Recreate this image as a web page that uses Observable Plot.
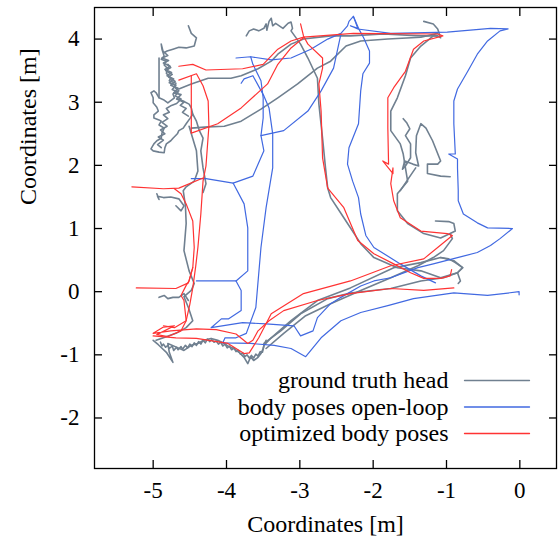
<!DOCTYPE html>
<html>
<head>
<meta charset="utf-8">
<script src="https://cdn.jsdelivr.net/npm/d3@7"></script>
<script src="https://cdn.jsdelivr.net/npm/@observablehq/plot@0.6"></script>
<style>
  html, body { margin: 0; padding: 0; background: #fff; }
  #chart svg { display: block; }
</style>
</head>
<body>
<div id="chart"></div>
<script>
// ---- axis ticks ----
const xTicks = [-5, -4, -3, -2, -1, 0];
const yTicks = [-2, -1, 0, 1, 2, 3, 4];
const seriesNames = ["ground truth head", "body poses open-loop", "optimized body poses"];
const seriesColors = ["#708090", "#4169e1", "#ff3333"];

// ---- ground truth head (gray) ----
const grayCluster = [[-4.52,4.21],[-4.48,4.09],[-4.41,4.02],[-4.44,3.89],[-4.55,3.86],[-4.65,3.87],[-4.73,3.84],[-4.81,3.81],[-4.86,3.78],[-4.89,3.92],[-4.88,3.84],[-4.85,3.73],[-4.89,3.68],[-4.82,3.65],[-4.85,3.59],[-4.80,3.53],[-4.82,3.46],[-4.76,3.38],[-4.78,3.34],[-4.69,3.30],[-4.71,3.24],[-4.65,3.18],[-4.73,3.13],[-4.71,3.07],[-4.80,2.99],[-4.86,3.04],[-4.92,3.07],[-4.96,3.15],[-4.99,3.18],[-5.03,3.15],[-5.00,3.07],[-5.00,2.99],[-4.95,2.92],[-4.93,2.86],[-4.99,2.80],[-4.99,2.75],[-4.92,2.72],[-4.89,2.70],[-4.92,2.64],[-4.85,2.59],[-4.88,2.51],[-4.89,2.43],[-4.95,2.39],[-4.99,2.34],[-5.03,2.26],[-5.00,2.23],[-4.92,2.21],[-4.85,2.20],[-4.84,2.28],[-4.82,2.34],[-4.76,2.39],[-4.73,2.43],[-4.67,2.50],[-4.65,2.55],[-4.59,2.59],[-4.55,2.66],[-4.50,2.74],[-4.46,2.81],[-4.48,2.91],[-4.51,2.97],[-4.56,3.00],[-4.59,3.02],[-4.67,3.05]];
const grayClusterNoise = [[-4.80,3.60],[-4.76,3.55],[-4.83,3.50],[-4.74,3.44],[-4.79,3.40],[-4.70,3.33],[-4.76,3.27],[-4.66,3.22],[-4.72,3.15],[-4.62,3.12],[-4.68,3.05],[-4.58,3.00],[-4.63,2.95],[-4.55,2.90],[-4.60,2.84],[-4.52,2.78]];
const grayClusterNoise2 = [[-4.86,3.80],[-4.80,3.74],[-4.88,3.70],[-4.79,3.66],[-4.86,3.62],[-4.77,3.57],[-4.84,3.52],[-4.75,3.47],[-4.81,3.42],[-4.72,3.37],[-4.78,3.31],[-4.69,3.27],[-4.74,3.20],[-4.66,3.16],[-4.70,3.10],[-4.62,3.05],[-4.68,2.98],[-4.75,2.95],[-4.82,2.90],[-4.78,2.84],[-4.86,2.80],[-4.80,2.74],[-4.88,2.68],[-4.81,2.62],[-4.90,2.56],[-4.84,2.50],[-4.93,2.45],[-4.86,2.40],[-4.94,2.33],[-4.89,2.28]];
const grayClusterLine = [[-4.92,3.70],[-4.92,3.07]];
const grayH1 = [[-4.65,3.21],[-4.48,3.29],[-4.25,3.38],[-3.94,3.38],[-3.80,3.42],[-3.57,3.53],[-3.39,3.65],[-3.30,3.76],[-3.12,3.92],[-2.95,4.00],[-2.58,4.05],[-2.31,4.05],[-1.86,4.08],[-1.35,4.05],[-1.12,4.05]];
const grayDiag = [[-4.48,2.59],[-4.25,2.61],[-4.03,2.62],[-3.80,2.70],[-3.53,2.89],[-3.30,3.07],[-3.03,3.29],[-2.76,3.54],[-2.58,3.65],[-2.37,3.89],[-2.17,3.97],[-1.80,4.00],[-1.35,4.03],[-1.12,4.09]];
const grayMid = [[-3.73,4.05],[-3.69,4.13],[-3.63,4.16],[-3.56,4.13],[-3.49,4.17],[-3.46,4.24],[-3.45,4.14],[-3.42,4.28],[-3.39,4.33],[-3.37,4.21],[-3.33,4.25],[-3.23,4.17],[-3.16,4.25],[-3.12,4.27],[-3.10,4.17],[-3.12,4.13],[-2.99,3.92],[-2.89,3.70],[-2.76,3.38],[-2.74,2.97],[-2.69,2.43],[-2.65,1.96],[-2.62,1.64],[-2.58,1.49],[-2.40,1.17],[-2.17,0.76],[-1.99,0.54],[-1.67,0.38],[-1.35,0.33],[-1.08,0.22],[-0.85,0.30],[-0.78,0.38],[-0.90,0.49],[-1.08,0.54]];
const grayRight = [[-1.31,4.28],[-1.18,4.24],[-1.12,4.16],[-1.08,4.02],[-1.12,4.05],[-1.18,4.05],[-1.35,3.89],[-1.49,3.70],[-1.56,3.42],[-1.67,3.07],[-1.76,2.86],[-1.76,2.55],[-1.63,2.34],[-1.59,2.18],[-1.56,1.96],[-1.53,1.75],[-1.67,1.55],[-1.67,1.28],[-1.53,1.08],[-1.31,0.92],[-1.08,0.85],[-0.95,0.92],[-0.88,0.96],[-0.90,1.08],[-0.97,1.11],[-1.15,1.12]];
const grayRight2 = [[-0.95,0.92],[-0.92,0.84],[-1.04,0.65],[-1.18,0.54],[-1.39,0.41],[-1.76,0.22],[-2.17,0.02],[-2.58,-0.19],[-2.92,-0.38],[-3.22,-0.66],[-3.46,-0.90]];
const grayBot1 = [[-3.49,-0.85],[-3.39,-0.73],[-3.12,-0.46],[-2.76,-0.14],[-2.31,0.06],[-1.72,0.38],[-1.35,0.46],[-1.08,0.54],[-0.97,0.52],[-0.88,0.46],[-0.78,0.38],[-0.85,0.30],[-0.81,0.17],[-0.84,0.13]];
const grayBot2 = [[-3.49,-0.82],[-3.26,-0.62],[-2.99,-0.35],[-2.62,-0.11],[-2.31,-0.02],[-1.76,0.05],[-1.35,0.17],[-1.04,0.22],[-0.85,0.30]];
const grayRightLoop = [[-0.95,1.82],[-1.08,1.83],[-1.26,1.87],[-1.26,2.02],[-1.12,2.02],[-1.08,2.07],[-1.19,2.39],[-1.28,2.59],[-1.35,2.66],[-1.41,2.47],[-1.42,2.20],[-1.38,1.99],[-1.46,2.02],[-1.57,2.07],[-1.60,1.94],[-1.56,1.99],[-1.49,2.12],[-1.49,2.34],[-1.56,2.47],[-1.50,2.58],[-1.54,2.67],[-1.59,2.74]];
const grayRightTail = [[-1.42,1.96],[-1.52,1.79],[-1.63,1.60]];
const grayLV1 = [[-4.46,2.81],[-4.41,2.70],[-4.37,2.55],[-4.32,2.43],[-4.35,2.23],[-4.32,1.96],[-4.28,1.71],[-4.32,1.57]];
const grayLV2 = [[-4.51,2.62],[-4.41,2.23],[-4.39,1.91],[-4.44,1.75],[-4.55,1.66],[-4.59,1.60],[-4.56,1.36],[-4.55,1.08],[-4.58,0.65],[-4.51,0.33],[-4.44,0.13],[-4.48,0.02],[-4.52,-0.02],[-4.58,-0.08],[-4.52,-0.25],[-4.46,-0.46],[-4.55,-0.57],[-4.69,-0.66],[-4.86,-0.73],[-4.96,-0.77]];
const grayStub1 = [[-4.95,1.55],[-4.92,1.46],[-4.94,1.51],[-4.86,1.49],[-4.76,1.50],[-4.65,1.47],[-4.58,1.36],[-4.62,1.28],[-4.69,1.36]];
const grayStub2 = [[-4.92,-0.09],[-4.85,-0.06],[-4.80,-0.11],[-4.73,-0.09],[-4.65,-0.09],[-4.58,-0.03],[-4.52,-0.14]];
const grayBand = [[-5.00,-0.77],[-4.93,-0.84],[-4.82,-0.96],[-4.73,-1.12],[-4.78,-0.96],[-4.80,-0.82],[-4.66,-0.89],[-4.58,-0.93],[-4.48,-0.85],[-4.39,-0.82],[-4.31,-0.77],[-4.21,-0.74],[-4.12,-0.77],[-4.03,-0.82],[-3.97,-0.87],[-3.90,-0.90],[-3.83,-0.96],[-3.76,-1.04],[-3.71,-1.14],[-3.67,-1.03],[-3.63,-1.09],[-3.57,-1.04],[-3.53,-0.98],[-3.50,-0.90],[-3.49,-0.85],[-3.46,-0.77]];
const grayBandNoise = [[-4.90,-0.80],[-4.88,-0.86],[-4.86,-0.83],[-4.83,-0.88],[-4.80,-0.85],[-4.78,-0.90],[-4.74,-0.86],[-4.72,-0.93],[-4.68,-0.88],[-4.66,-0.92],[-4.62,-0.87],[-4.60,-0.91],[-4.56,-0.85],[-4.53,-0.89],[-4.50,-0.83],[-4.47,-0.87],[-4.44,-0.81],[-4.41,-0.85],[-4.38,-0.79],[-4.35,-0.83],[-4.32,-0.77],[-4.29,-0.81],[-4.26,-0.75],[-4.23,-0.79],[-4.20,-0.76],[-4.17,-0.80],[-4.14,-0.78],[-4.11,-0.83],[-4.08,-0.80],[-4.05,-0.86],[-4.02,-0.83],[-3.99,-0.89],[-3.96,-0.86],[-3.93,-0.92],[-3.90,-0.89],[-3.87,-0.95],[-3.84,-0.93],[-3.81,-0.99],[-3.78,-0.97],[-3.75,-1.03],[-3.72,-1.00],[-3.69,-1.05],[-3.66,-1.01],[-3.63,-1.05],[-3.60,-0.99],[-3.57,-1.02],[-3.54,-0.95],[-3.51,-0.96],[-3.49,-0.86]];

// ---- body poses open-loop (blue) ----
const blueTop = [[-3.87,3.70],[-3.67,3.72],[-3.39,3.67],[-3.12,3.70],[-2.85,3.84],[-2.62,4.00],[-2.44,4.09],[-2.35,4.21],[-2.33,4.28],[-2.27,4.36],[-2.21,4.17],[-2.31,4.21],[-2.21,4.16],[-1.76,4.09],[-0.99,4.11],[-0.40,4.17],[-0.16,4.16],[-0.27,4.13],[-0.44,3.97],[-0.58,3.76],[-0.71,3.49],[-0.85,3.21],[-0.90,3.02],[-0.90,2.66],[-0.88,2.18],[-0.97,2.18],[-0.85,2.10],[-0.85,1.96],[-0.84,1.60],[-0.84,1.44],[-0.77,1.23],[-0.58,1.09],[-0.44,1.01],[-0.10,1.00],[-0.27,0.84],[-0.40,0.73],[-0.58,0.62],[-0.85,0.54],[-1.18,0.44],[-1.39,0.38],[-1.76,0.22],[-1.99,0.17],[-2.17,0.09],[-2.44,-0.09],[-2.58,-0.19],[-2.76,-0.41],[-2.82,-0.62],[-2.99,-0.70],[-3.08,-0.54],[-3.46,-0.51],[-3.78,-0.49],[-4.21,-0.57],[-4.07,-0.43],[-3.97,-0.43],[-3.80,-0.30],[-3.80,0.02],[-3.87,0.17],[-4.41,0.17]];
const blueMid = [[-2.27,4.36],[-2.20,4.17],[-2.13,4.02],[-2.05,3.81],[-2.05,3.62],[-2.14,3.45],[-2.17,3.18],[-2.20,2.66],[-2.33,2.28],[-2.35,2.02],[-2.28,1.75],[-2.20,1.49],[-2.17,1.23],[-2.10,0.89],[-1.99,0.70],[-1.63,0.44],[-1.35,0.25],[-1.15,0.14]];
const blueBot = [[-0.01,-0.05],[-0.01,0.00],[-0.44,-0.06],[-0.90,-0.02],[-1.45,-0.11],[-1.80,-0.22],[-2.17,-0.33],[-2.44,-0.46],[-2.71,-0.73],[-2.92,-1.03],[-3.12,-0.90],[-3.35,-0.85],[-3.67,-0.82],[-4.05,-0.81],[-4.02,-0.73],[-3.87,-0.73],[-3.73,-0.66],[-3.60,-0.25],[-3.53,0.70],[-3.46,1.33],[-3.37,1.96],[-3.37,2.50],[-3.42,2.91],[-3.49,3.10],[-3.64,3.42],[-3.76,3.37],[-3.80,3.30]];
const blueLeft = [[-4.48,1.79],[-4.28,1.79],[-3.91,1.72],[-3.76,1.39],[-3.71,1.01],[-3.71,0.33],[-3.87,0.17]];
const blueDiag = [[-3.91,1.72],[-3.64,1.83],[-3.49,2.23],[-3.53,2.47],[-3.50,2.75],[-3.50,3.07],[-3.53,3.34],[-3.64,3.60],[-3.67,3.72]];
const blueDiag2 = [[-3.53,2.47],[-3.22,2.55],[-2.89,2.86],[-2.71,3.18],[-2.54,3.54],[-2.44,4.08]];

// ---- optimized body poses (red) ----
const redA = [[-0.90,0.06],[-1.31,0.02],[-1.76,0.05],[-2.31,-0.03],[-2.76,-0.14],[-3.22,-0.30],[-3.42,-0.46],[-3.57,-0.62],[-3.64,-0.77],[-3.71,-0.82],[-3.87,-0.67],[-4.14,-0.60],[-4.41,-0.59],[-4.76,-0.62],[-5.00,-0.66],[-4.86,-0.56],[-4.71,-0.54],[-4.95,-0.68],[-4.80,-0.71],[-4.62,-0.62],[-4.55,-0.46],[-4.50,-0.20],[-4.46,0.06],[-4.42,0.40],[-4.39,0.70],[-4.35,1.23],[-4.32,1.75],[-4.28,1.99],[-4.24,2.62],[-4.25,3.02],[-4.32,3.26],[-4.41,3.45],[-4.65,3.35]];
const redB = [[-4.65,3.57],[-4.46,3.60],[-4.28,3.51],[-3.78,3.53],[-3.50,3.60],[-3.30,3.84],[-3.12,3.97],[-2.95,4.03],[-2.27,4.09],[-1.12,4.08],[-1.05,4.05],[-1.31,3.97],[-1.45,3.84],[-1.56,3.49],[-1.72,3.23],[-1.80,3.07],[-1.80,2.59],[-1.79,2.02],[-1.87,2.07],[-1.73,1.87],[-1.73,1.96],[-1.76,1.71],[-1.72,1.44],[-1.63,1.17],[-1.35,0.96],[-0.99,0.92],[-0.92,0.89],[-1.31,0.52],[-1.76,0.41],[-2.31,0.17],[-2.95,-0.03],[-3.39,-0.35],[-3.56,-0.73],[-3.69,-0.97],[-3.76,-0.98],[-3.98,-0.82],[-4.41,-0.74],[-4.69,-0.73],[-5.00,-0.70]];
const redC = [[-2.99,4.24],[-2.95,4.05],[-2.89,3.92],[-2.69,3.70],[-2.69,3.54],[-2.74,3.29],[-2.71,2.86],[-2.69,2.12],[-2.62,1.64],[-2.40,1.33],[-2.21,0.81],[-1.99,0.60],[-1.72,0.44],[-1.49,0.30],[-1.31,0.21],[-1.08,0.21],[-0.95,0.25],[-0.93,0.35]];
const redD = [[-4.48,3.42],[-4.48,2.51],[-4.12,2.66],[-3.80,2.91],[-3.44,3.29],[-3.30,3.60],[-3.12,3.86],[-2.95,4.02]];
const redE = [[-5.29,1.66],[-4.86,1.63],[-4.65,1.64],[-4.32,1.80]];
const redF = [[-4.71,1.63],[-4.62,1.55],[-4.55,1.39],[-4.46,1.12],[-4.44,0.70],[-4.46,0.38],[-4.51,0.17],[-4.55,0.10],[-4.62,-0.06],[-4.58,-0.14],[-4.55,-0.46],[-4.71,-0.57],[-4.86,-0.54]];
const redG = [[-5.23,0.06],[-4.69,0.05],[-4.52,0.14],[-4.46,0.38]];

const graySegments = [grayCluster, grayClusterNoise, grayClusterNoise2, grayClusterLine, grayH1, grayDiag, grayMid, grayRight, grayRight2, grayBot1, grayBot2, grayRightLoop, grayRightTail, grayLV1, grayLV2, grayStub1, grayStub2, grayBand, grayBandNoise];
const blueSegments = [blueTop, blueMid, blueBot, blueLeft, blueDiag, blueDiag2];
const redSegments = [redA, redB, redC, redD, redE, redF, redG];

function toRows(segments, name) {
  const rows = [];
  segments.forEach((seg, s) => seg.forEach(([x, y]) => rows.push({series: name, seg: name + s, x, y})));
  return rows;
}
const grayRows = toRows(graySegments, seriesNames[0]);
const blueRows = toRows(blueSegments, seriesNames[1]);
const redRows = toRows(redSegments, seriesNames[2]);

const font = "Liberation Serif";
const lineShape = {draw(context, l) { context.moveTo(0, 0); context.lineTo(0, -l); }};
const legendDy = [-88, -61.5, -35];

const legendMarks = [];
seriesNames.forEach((name, i) => {
  legendMarks.push(Plot.text([name], {frameAnchor: "bottom-right", text: d => d, dx: -108, dy: legendDy[i], textAnchor: "end", lineAnchor: "middle", fontSize: 24, fontFamily: font, fill: "#000"}));
  legendMarks.push(Plot.vector([name], {frameAnchor: "bottom-right", dx: -92, dy: legendDy[i], length: 65, rotate: 90, anchor: "start", shape: lineShape, stroke: seriesColors[i], strokeWidth: 1.3}));
});

const chart = Plot.plot({
  width: 559,
  height: 540,
  marginLeft: 94,
  marginRight: 3,
  marginTop: 7,
  marginBottom: 72,
  style: {fontFamily: font, background: "#fff", color: "#000"},
  x: {domain: [-5.8, 0.5]},
  y: {domain: [-2.8, 4.5]},
  marks: [
    Plot.line(grayRows, {x: "x", y: "y", z: "seg", stroke: seriesColors[0], strokeWidth: 1.6, strokeLinejoin: "round"}),
    Plot.line(blueRows, {x: "x", y: "y", z: "seg", stroke: seriesColors[1], strokeWidth: 1.2, strokeLinejoin: "round"}),
    Plot.line(redRows, {x: "x", y: "y", z: "seg", stroke: seriesColors[2], strokeWidth: 1.2, strokeLinejoin: "round"}),
    Plot.frame({stroke: "#000", strokeWidth: 1.3}),
    Plot.axisX({anchor: "bottom", ticks: xTicks, tickSize: -8, tickFormat: () => "", label: null, strokeWidth: 1.3}),
    Plot.axisX({anchor: "top", ticks: xTicks, tickSize: -8, tickFormat: () => "", label: null, strokeWidth: 1.3}),
    Plot.axisY({anchor: "left", ticks: yTicks, tickSize: -8, tickFormat: () => "", label: null, strokeWidth: 1.3}),
    Plot.axisY({anchor: "right", ticks: yTicks, tickSize: -8, tickFormat: () => "", label: null, strokeWidth: 1.3}),
    Plot.axisX({anchor: "bottom", ticks: xTicks, tickSize: 0, tickPadding: 13, tickFormat: d => String(d), label: null, fontSize: 23, fontFamily: font}),
    Plot.axisY({anchor: "left", ticks: yTicks, tickSize: 0, tickPadding: 15, tickFormat: d => String(d), label: null, fontSize: 23, fontFamily: font}),
    Plot.text(["Coordinates [m]"], {frameAnchor: "bottom", text: d => d, dy: 56, lineAnchor: "middle", fontSize: 24, fontFamily: font}),
    Plot.text(["Coordinates [m]"], {frameAnchor: "left", text: d => d, dx: -66, dy: -33, rotate: -90, lineAnchor: "middle", fontSize: 24, fontFamily: font}),
    ...legendMarks
  ]
});
document.getElementById("chart").appendChild(chart);
</script>
</body>
</html>
